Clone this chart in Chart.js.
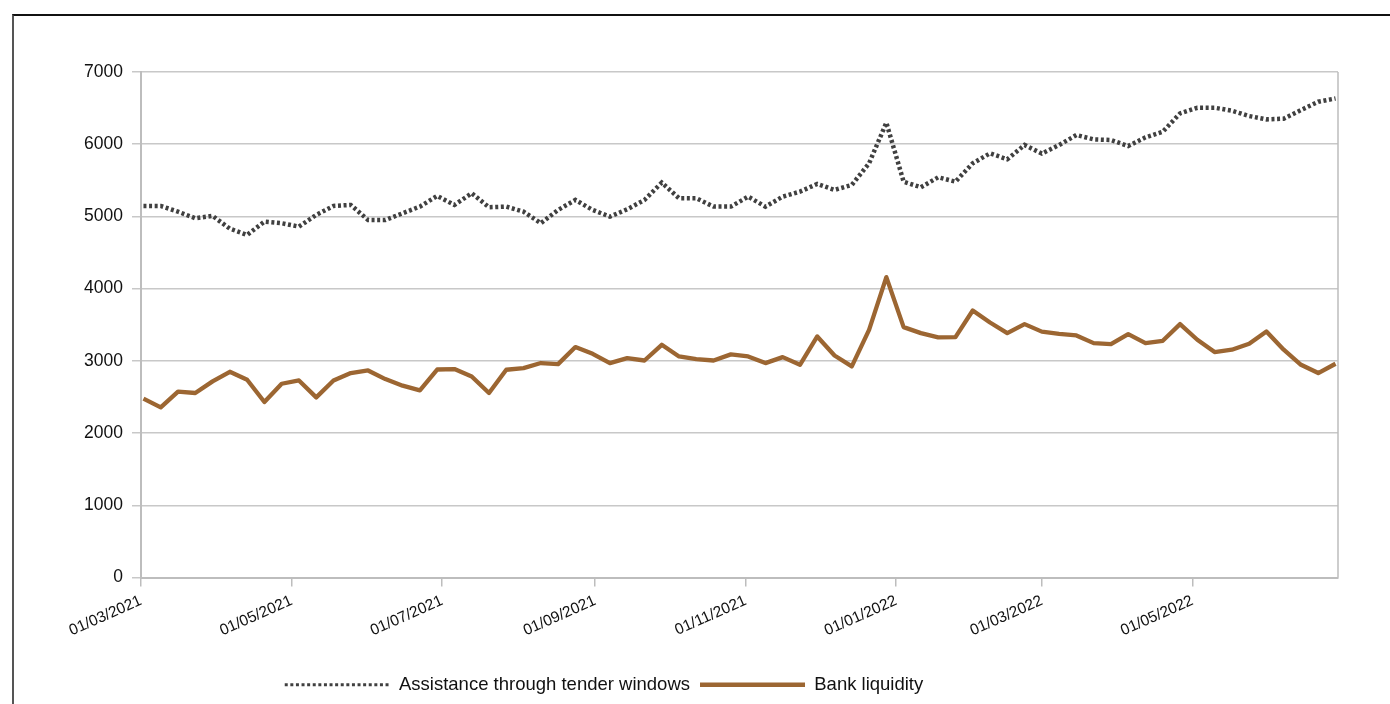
<!DOCTYPE html>
<html>
<head>
<meta charset="utf-8">
<script src="https://cdn.jsdelivr.net/npm/chart.js@4/dist/chart.umd.min.js"></script>
<style>
    html, body { margin: 0; padding: 0; background: #fff; overflow: hidden; }
    #frame {
        position: absolute; left: 12px; top: 14px; width: 2000px; height: 2000px;
        border-top: 2px solid #111; border-left: 2px solid #555;
    }
    #wrap { position: absolute; left: 0; top: 0; width: 1390px; height: 704px; }
</style>
</head>
<body>
<div id="frame"></div>
<div id="wrap"><canvas id="grafico"></canvas></div>
<script>
// ===== Datos =====
const fechas = [
    '02/03/2021', '09/03/2021', '16/03/2021', '23/03/2021', '30/03/2021',
    '06/04/2021', '13/04/2021', '20/04/2021', '27/04/2021',
    '04/05/2021', '11/05/2021', '18/05/2021', '25/05/2021',
    '01/06/2021', '08/06/2021', '15/06/2021', '22/06/2021', '29/06/2021',
    '06/07/2021', '13/07/2021', '20/07/2021', '27/07/2021',
    '03/08/2021', '10/08/2021', '17/08/2021', '24/08/2021', '31/08/2021',
    '07/09/2021', '14/09/2021', '21/09/2021', '28/09/2021',
    '05/10/2021', '12/10/2021', '19/10/2021', '26/10/2021',
    '02/11/2021', '09/11/2021', '16/11/2021', '23/11/2021', '30/11/2021',
    '07/12/2021', '14/12/2021', '21/12/2021', '28/12/2021',
    '04/01/2022', '11/01/2022', '18/01/2022', '25/01/2022',
    '01/02/2022', '08/02/2022', '15/02/2022', '22/02/2022',
    '01/03/2022', '08/03/2022', '15/03/2022', '22/03/2022', '29/03/2022',
    '05/04/2022', '12/04/2022', '19/04/2022', '26/04/2022',
    '03/05/2022', '10/05/2022', '17/05/2022', '24/05/2022', '31/05/2022',
    '07/06/2022', '14/06/2022', '21/06/2022', '28/06/2022'
];

const asistencia = [
    5145, 5145, 5066, 4975, 5007, 4830, 4744, 4928, 4906, 4859,
    5021, 5145, 5159, 4951, 4951, 5044, 5136, 5284, 5159, 5321,
    5127, 5136, 5066, 4906, 5090, 5228, 5090, 4997, 5099, 5228,
    5468, 5252, 5252, 5136, 5136, 5274, 5136, 5274, 5343, 5450,
    5367, 5436, 5736, 6298, 5481, 5404, 5542, 5481, 5736, 5874,
    5791, 5989, 5870, 5989, 6127, 6067, 6058, 5975, 6095, 6173,
    6427, 6505, 6505, 6464, 6390, 6344, 6353, 6473, 6588, 6634
];

const liquidez = [
    2476, 2355, 2573, 2555, 2716, 2849, 2739, 2430, 2683, 2729,
    2494, 2729, 2831, 2867, 2748, 2656, 2591, 2880, 2886, 2784,
    2555, 2877, 2900, 2970, 2955, 3191, 3098, 2969, 3038, 3005,
    3222, 3061, 3024, 3005, 3090, 3061, 2969, 3052, 2946, 3338,
    3075, 2923, 3430, 4159, 3467, 3384, 3324, 3329, 3697, 3531,
    3384, 3509, 3405, 3375, 3352, 3246, 3232, 3371, 3246, 3278,
    3509, 3292, 3122, 3154, 3237, 3407, 3154, 2946, 2831, 2960
];

const etiquetasEje = [
    '01/03/2021', '01/05/2021', '01/07/2021', '01/09/2021',
    '01/11/2021', '01/01/2022', '01/03/2022', '01/05/2022'
];
const ticksY = [0, 1000, 2000, 3000, 4000, 5000, 6000, 7000];

const inicioEje = '01/03/2021';
const finEje = '29/06/2022';

// ===== Utilidades =====
function aDia(fecha) {
    const [d, m, a] = fecha.split('/').map(Number);
    return Math.round((Date.UTC(a, m - 1, d) - Date.UTC(2021, 2, 1)) / 86400000);
}
function etiquetaDe(dia) {
    const f = new Date(Date.UTC(2021, 2, 1) + dia * 86400000);
    const dd = String(f.getUTCDate()).padStart(2, '0');
    const mm = String(f.getUTCMonth() + 1).padStart(2, '0');
    return `${dd}/${mm}/${f.getUTCFullYear()}`;
}

const serieAsistencia = fechas.map((f, i) => ({ x: aDia(f), y: asistencia[i] }));
const serieLiquidez = fechas.map((f, i) => ({ x: aDia(f), y: liquidez[i] }));

// borde derecho del área de trazado + leyenda algo desplazada a la izquierda
const bordeDerecho = {
    id: 'bordeDerecho',
    afterLayout(chart) {
        const leyenda = chart.legend;
        if (leyenda) {
            leyenda.left -= 85;
            leyenda.right -= 85;
        }
    },
    afterDraw(chart) {
        const { ctx, chartArea } = chart;
        ctx.save();
        ctx.strokeStyle = '#bdbdbd';
        ctx.lineWidth = 1.5;
        ctx.beginPath();
        ctx.moveTo(chartArea.right, chartArea.top);
        ctx.lineTo(chartArea.right, chartArea.bottom);
        ctx.stroke();
        ctx.restore();
    }
};

// leyenda con el mismo trazo (punteado / continuo) que cada serie
function etiquetasLeyenda(chart) {
    const base = Chart.defaults.plugins.legend.labels.generateLabels(chart);
    return base.map(item => {
        const ds = chart.data.datasets[item.datasetIndex];
        item.lineDash = ds.borderDash || [];
        item.lineWidth = ds.legendWidth || ds.borderWidth;
        item.strokeStyle = ds.borderColor;
        item.lineCap = 'butt';
        return item;
    });
}

const ctx = document.getElementById('grafico').getContext('2d');
new Chart(ctx, {
    type: 'line',
    data: {
        datasets: [
            {
                label: 'Assistance through tender windows',
                data: serieAsistencia,
                borderColor: '#404040',
                borderWidth: 4.5,
                legendWidth: 3,
                borderDash: [3, 2.6],
                borderCapStyle: 'butt',
                pointRadius: 0,
                tension: 0,
                fill: false
            },
            {
                label: 'Bank liquidity',
                data: serieLiquidez,
                borderColor: '#9c6632',
                borderWidth: 4.3,
                borderJoinStyle: 'round',
                pointRadius: 0,
                tension: 0,
                fill: false
            }
        ]
    },
    options: {
        responsive: true,
        maintainAspectRatio: false,
        animation: false,
        layout: { padding: { left: 40, right: 52, top: 72, bottom: 0 } },
        plugins: {
            tooltip: { enabled: false },
            legend: {
                position: 'bottom',
                labels: {
                    usePointStyle: true,
                    pointStyle: 'line',
                    pointStyleWidth: 105,
                    color: '#111',
                    padding: 10,
                    generateLabels: etiquetasLeyenda,
                    font: { family: '"Liberation Sans", Arial, sans-serif', size: 18.5 }
                }
            }
        },
        scales: {
            x: {
                type: 'linear',
                min: aDia(inicioEje),
                max: aDia(finEje),
                afterBuildTicks: scale => {
                    scale.ticks = etiquetasEje.map(e => ({ value: aDia(e) }));
                },
                afterFit: scale => { scale.height = 88; },
                ticks: {
                    autoSkip: false,
                    minRotation: 24,
                    maxRotation: 24,
                    padding: 5,
                    color: '#111',
                    font: { family: '"Liberation Sans", Arial, sans-serif', size: 15.5 },
                    callback: value => etiquetaDe(value)
                },
                grid: {
                    drawOnChartArea: false,
                    drawTicks: true,
                    tickLength: 9,
                    color: '#bdbdbd',
                    lineWidth: 1.5
                },
                border: { display: true, color: '#bdbdbd', width: 2 }
            },
            y: {
                min: 0,
                max: 7000,
                afterBuildTicks: scale => {
                    scale.ticks = ticksY.map(v => ({ value: v }));
                },
                afterFit: scale => { scale.width = 101; },
                ticks: {
                    padding: 9,
                    color: '#111',
                    font: { family: '"Liberation Sans", Arial, sans-serif', size: 17.5 },
                    callback: value => String(value)
                },
                grid: {
                    color: '#c8c8c8',
                    lineWidth: 1.5,
                    tickLength: 9
                },
                border: { display: true, color: '#bdbdbd', width: 2 }
            }
        }
    },
    plugins: [bordeDerecho]
});
</script>
</body>
</html>
